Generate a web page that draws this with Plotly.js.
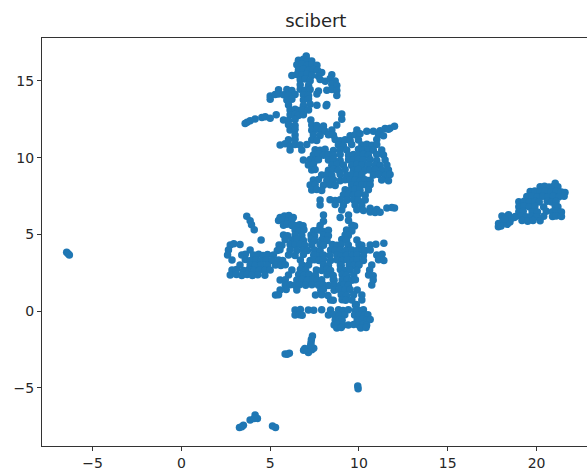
<!DOCTYPE html>
<html><head><meta charset="utf-8">
<script src="https://cdn.plot.ly/plotly-3.0.1.min.js"></script>
<style>html,body{margin:0;padding:0;background:#fff}</style></head>
<body><div id="chart" style="width:587px;height:470px"></div>
<script>
const chartTitle = "scibert";
const xTicks = [-5,0,5,10,15,20];
const yTicks = [-5,0,5,10,15];
const capPts = [[7.03,16.62],[6.59,16.35],[6.87,16.42],[7.1,16.33],[7.34,16.3],[6.5,16.05],[6.78,16.1],[7.06,16.0],[7.34,16.08],[7.63,16.02],[6.59,15.72],[6.87,15.78],[7.16,15.68],[7.44,15.74],[7.66,15.7],[7.9,15.55],[6.22,15.35],[6.5,15.42],[6.78,15.38],[7.06,15.44],[7.34,15.36],[7.72,15.3],[8.47,15.4],[6.69,15.07],[6.97,15.12],[7.25,15.02],[7.81,15.1],[8.1,14.98],[8.38,15.16],[8.66,15.0],[6.69,14.75],[7.16,14.72],[8.47,14.78],[8.75,14.7],[5.47,14.42],[5.94,14.44],[6.22,14.38],[6.69,14.46],[6.97,14.4],[7.25,14.45],[7.72,14.35],[8.19,14.4],[8.47,14.45],[8.75,14.38],[5.0,14.02],[5.28,14.12],[5.47,14.15],[5.75,14.1],[6.03,14.05],[6.4,14.12],[6.87,14.1],[7.16,14.05],[7.63,14.15],[8.75,14.05],[5.0,13.8],[5.94,13.75],[6.22,13.8],[6.87,13.75],[7.16,13.82],[6.03,13.44],[6.87,13.4],[7.25,13.48],[7.63,13.42],[8.19,13.46],[8.15,13.38]];
const upperPts = [[6.12,13.11],[6.4,13.15],[6.59,13.08],[6.78,13.12],[7.16,13.1],[5.34,12.8],[6.12,12.79],[6.4,12.82],[6.59,12.75],[6.87,12.8],[9.03,12.84],[3.59,12.22],[3.7,12.3],[3.87,12.4],[4.15,12.52],[4.53,12.62],[4.72,12.67],[5.0,12.56],[5.75,12.46],[6.03,12.42],[6.4,12.48],[7.29,12.46],[9.03,12.5],[6.03,12.14],[6.4,12.1],[6.12,11.81],[6.4,11.85],[6.4,11.48],[6.03,11.16],[6.4,11.2],[5.56,10.83],[5.84,10.9],[6.12,10.78],[6.4,10.85],[6.12,10.5]];
const midUpperPts = [[7.34,12.13],[7.62,12.1],[8.0,12.06],[8.75,12.13],[7.34,11.78],[7.62,11.85],[7.9,11.78],[8.09,11.72],[8.47,11.8],[9.88,11.8],[11.19,11.75],[11.47,11.9],[11.75,11.92],[12.0,12.05],[7.43,11.48],[7.81,11.45],[8.28,11.5],[8.56,11.46],[9.5,11.42],[9.78,11.5],[10.06,11.55],[10.44,11.72],[10.81,11.72],[11.1,11.5],[11.38,11.42],[11.66,11.85],[7.34,11.15],[7.62,11.12],[8.66,11.18],[8.94,11.1],[9.22,11.16],[9.5,11.12],[9.97,11.15],[11.0,11.18],[6.68,10.83],[7.06,10.85],[8.84,10.83],[9.12,10.78],[9.59,10.85],[10.16,10.82],[10.44,10.88],[10.72,10.8],[11.0,10.85],[6.78,10.5],[7.53,10.52],[7.81,10.48],[8.09,10.55],[8.56,10.46],[8.94,10.52],[9.31,10.5],[9.97,10.54],[10.25,10.46],[10.53,10.52],[10.81,10.48],[11.28,10.5],[7.43,10.18],[7.72,10.22],[8.0,10.15],[8.28,10.2],[8.56,10.16],[8.94,10.2],[9.41,10.15],[9.69,10.2],[9.97,10.16],[10.25,10.22],[10.53,10.15],[11.0,10.2],[11.38,10.18]];
const midLowerPts = [[6.87,9.85],[7.25,9.88],[7.53,9.82],[7.72,9.86],[8.28,9.85],[8.56,9.88],[8.94,9.82],[9.41,9.86],[9.69,9.82],[9.97,9.88],[10.25,9.84],[10.63,9.88],[11.0,9.82],[11.47,9.85],[7.15,9.52],[7.43,9.55],[8.47,9.5],[8.75,9.55],[9.12,9.52],[9.59,9.48],[9.88,9.55],[10.16,9.5],[10.53,9.54],[10.91,9.52],[11.19,9.48],[11.57,9.52],[7.34,9.2],[7.53,9.22],[8.28,9.18],[8.56,9.24],[8.84,9.18],[9.22,9.22],[9.69,9.18],[9.97,9.22],[10.35,9.18],[10.63,9.2],[10.91,9.22],[11.28,9.18],[11.66,9.2],[7.9,8.87],[8.19,8.9],[8.47,8.84],[8.94,8.9],[9.31,8.85],[9.59,8.9],[9.88,8.84],[10.16,8.88],[10.81,8.86],[11.1,8.9],[11.47,8.84],[11.75,8.9],[7.43,8.54],[7.72,8.58],[8.19,8.52],[8.56,8.56],[8.94,8.5],[9.22,8.56],[9.5,8.52],[9.78,8.56],[10.06,8.5],[10.35,8.56],[10.63,8.52],[11.28,8.54],[11.66,8.5],[7.25,8.22],[7.53,8.25],[8.0,8.2],[8.37,8.24],[8.66,8.18],[9.59,8.22],[9.88,8.18],[10.16,8.24],[10.44,8.2],[10.63,8.24],[7.34,7.89],[7.62,7.92],[7.9,7.86],[9.22,7.9],[9.5,7.86],[9.78,7.92],[10.06,7.88],[10.53,7.9],[9.12,7.57],[9.41,7.6],[9.69,7.55],[9.97,7.6],[10.35,7.56],[7.81,7.24],[8.37,7.26],[8.66,7.2],[8.94,7.26],[9.31,7.22],[9.69,7.26],[9.97,7.2],[10.35,7.24],[7.81,6.91],[8.66,6.94],[9.12,6.9],[9.78,6.92],[10.16,6.88],[10.63,6.7],[11.0,6.62],[11.57,6.72],[11.85,6.75],[12.0,6.72],[9.03,6.59],[9.88,6.6],[10.25,6.56],[10.63,6.46],[10.91,6.42],[11.19,6.44]];
const lowerTopPts = [[8.0,6.26],[9.41,6.26],[8.94,6.1],[3.68,6.18],[5.56,6.1],[5.8,6.2],[6.05,6.22],[6.3,6.1],[3.87,5.88],[5.47,5.9],[5.72,5.94],[6.0,5.88],[6.22,5.96],[8.0,5.85],[9.41,5.9],[3.95,5.62],[5.75,5.6],[5.94,5.66],[6.22,5.58],[6.4,5.58],[6.65,5.62],[6.85,5.56],[7.81,5.58],[9.6,5.6],[9.75,5.55],[4.1,5.3],[6.4,5.28],[6.65,5.22],[6.9,5.3],[7.45,5.24],[7.7,5.28],[7.95,5.2],[8.28,5.26],[9.3,5.28],[9.6,5.22],[5.75,4.96],[5.98,4.9],[6.4,4.96],[6.78,4.92],[7.3,4.96],[7.5,4.9],[8.0,4.96],[8.28,4.9],[9.22,4.96],[9.4,4.92],[4.49,4.63],[5.84,4.66],[6.22,4.63],[6.5,4.68],[6.87,4.6],[7.3,4.66],[7.5,4.6],[7.9,4.65],[8.2,4.6],[9.03,4.66],[9.3,4.6],[9.88,4.63]];
const lowerMidPts = [[2.75,4.3],[2.95,4.38],[3.3,4.34],[5.5,4.3],[5.66,4.28],[6.12,4.33],[6.4,4.28],[6.7,4.33],[6.95,4.28],[7.34,4.3],[7.81,4.33],[8.0,4.28],[8.5,4.33],[8.75,4.28],[9.0,4.33],[9.4,4.3],[10.0,4.33],[10.16,4.28],[10.63,4.3],[10.95,4.35],[11.4,4.42],[2.65,3.98],[3.87,3.98],[5.4,3.95],[5.55,4.0],[6.12,3.98],[6.5,3.95],[6.87,4.0],[7.1,3.94],[7.5,3.98],[7.81,3.95],[8.4,3.98],[8.65,3.94],[8.95,3.98],[9.25,3.94],[9.6,3.98],[9.9,3.95],[10.2,3.98],[10.35,3.94],[10.63,3.98],[2.6,3.65],[3.4,3.65],[3.6,3.7],[4.06,3.65],[4.35,3.7],[4.6,3.62],[4.85,3.68],[5.18,3.65],[6.03,3.65],[6.4,3.62],[6.87,3.68],[7.45,3.65],[7.8,3.6],[8.0,3.66],[8.35,3.62],[8.75,3.65],[9.0,3.6],[9.3,3.66],[9.6,3.62],[9.9,3.66],[10.25,3.6],[11.0,3.65],[11.3,3.7],[2.85,3.33],[3.6,3.36],[3.9,3.3],[4.2,3.34],[4.5,3.28],[4.8,3.34],[5.1,3.3],[5.47,3.33],[5.7,3.3],[6.7,3.33],[7.25,3.3],[7.5,3.34],[7.75,3.3],[8.0,3.36],[8.4,3.3],[8.75,3.34],[9.05,3.3],[9.35,3.35],[9.65,3.3],[9.9,3.34],[10.25,3.3],[11.1,3.35],[11.4,3.3],[3.3,3.0],[3.87,3.02],[4.15,2.96],[4.5,3.02],[4.85,2.98],[5.3,3.0],[5.6,2.96],[5.85,3.02],[6.8,3.0],[7.16,3.0],[8.0,3.0],[8.28,2.96],[8.95,3.0],[9.0,2.96],[9.45,3.0],[9.7,2.96],[9.98,3.0],[10.0,3.0],[10.72,3.0]];
const lowerBotPts = [[2.85,2.67],[3.1,2.7],[3.5,2.64],[3.8,2.7],[4.1,2.65],[4.4,2.68],[4.7,2.64],[5.0,2.68],[6.22,2.67],[6.7,2.7],[7.0,2.64],[7.6,2.68],[7.9,2.64],[8.2,2.7],[8.4,2.65],[8.95,2.7],[9.2,2.64],[9.5,2.68],[9.88,2.65],[10.6,2.67],[2.75,2.35],[3.1,2.38],[3.4,2.32],[3.7,2.38],[4.0,2.32],[4.3,2.36],[4.7,2.34],[6.03,2.35],[6.6,2.38],[6.9,2.32],[7.2,2.38],[7.55,2.33],[8.2,2.36],[8.55,2.32],[9.05,2.38],[9.3,2.32],[9.7,2.35],[10.54,2.35],[10.8,2.3],[5.56,2.02],[5.85,2.04],[6.5,2.02],[6.8,2.06],[7.1,2.0],[7.4,2.05],[7.65,2.0],[7.9,2.04],[8.6,2.0],[8.55,2.05],[9.05,2.02],[9.35,2.06],[9.6,2.0],[9.8,2.04],[10.8,2.02],[5.85,1.7],[6.12,1.72],[6.4,1.68],[6.65,1.72],[7.0,1.68],[7.35,1.72],[7.72,1.68],[8.0,1.7],[8.3,1.66],[8.6,1.72],[8.95,1.68],[9.15,1.72],[9.4,1.68],[10.72,1.7],[5.56,1.37],[5.9,1.4],[6.5,1.37],[7.85,1.35],[8.0,1.4],[8.6,1.36],[8.9,1.4],[9.2,1.35],[9.5,1.4],[9.9,1.37],[5.3,1.04],[5.47,1.06],[7.55,1.04],[7.9,1.06],[8.25,1.02],[9.0,1.06],[9.3,1.02],[9.7,1.06],[10.16,1.04],[8.4,0.72],[8.55,0.7],[9.05,0.74],[9.25,0.7],[9.6,0.72],[10.16,0.72],[9.8,0.39],[9.85,0.42],[6.4,0.07],[6.7,0.1],[7.15,0.06],[7.45,0.05],[7.9,0.08],[8.4,0.06],[8.85,0.08],[9.1,0.04],[9.4,0.08],[9.95,0.07],[9.8,0.04],[10.25,0.08],[10.2,0.0],[6.4,-0.26],[6.65,-0.24],[6.8,-0.28],[8.28,-0.26],[8.6,-0.24],[8.9,-0.28],[9.2,-0.24],[9.75,-0.26],[10.0,-0.24],[10.3,-0.28],[10.5,-0.24],[8.66,-0.59],[8.9,-0.56],[9.05,-0.6],[9.9,-0.59],[10.2,-0.56],[10.45,-0.6],[10.63,-0.56],[8.6,-0.91],[8.8,-0.88],[9.1,-0.92],[9.4,-0.91],[9.7,-0.88],[10.0,-0.92],[10.25,-0.88],[10.43,-0.92],[8.75,-1.1],[9.0,-1.08],[10.1,-1.1],[10.4,-1.08]];
const rightPts = [[21.05,8.33],[20.2,8.11],[20.45,8.14],[20.7,8.08],[20.95,8.12],[21.2,8.1],[19.64,7.79],[19.9,7.82],[20.2,7.76],[20.5,7.82],[20.8,7.76],[21.1,7.8],[21.4,7.76],[21.6,7.72],[19.45,7.46],[19.75,7.5],[20.05,7.44],[20.35,7.48],[20.65,7.44],[20.95,7.5],[21.25,7.44],[21.55,7.48],[19.0,7.13],[19.3,7.16],[19.6,7.1],[19.9,7.14],[20.15,7.1],[20.6,7.16],[20.85,7.1],[21.1,7.14],[19.0,6.8],[19.3,6.84],[19.6,6.78],[19.9,6.82],[20.4,6.78],[21.05,6.85],[21.2,6.8],[19.0,6.48],[19.25,6.5],[19.75,6.48],[20.05,6.46],[20.55,6.5],[20.9,6.48],[21.1,6.5],[21.4,6.46],[18.05,6.2],[18.42,6.28],[18.8,6.16],[19.1,6.2],[19.4,6.14],[19.7,6.2],[20.0,6.14],[20.4,6.18],[20.9,6.16],[21.1,6.2],[21.4,6.16],[17.86,5.7],[18.1,5.85],[18.3,5.8],[19.18,5.9],[19.5,5.86],[19.8,5.9],[20.2,5.88],[17.85,5.5],[18.0,5.55],[18.35,5.65],[18.5,5.8],[18.55,6.02],[18.75,6.1],[18.2,6.0]];
const isletPts = [[-6.46,3.83],[-6.38,3.74],[-6.31,3.65],[7.38,-1.63],[7.3,-2.07],[7.06,-2.55],[7.2,-2.55],[7.34,-2.52],[6.95,-2.45],[7.15,-2.7],[7.45,-2.42],[6.88,-2.55],[7.32,-1.85],[7.28,-2.25],[5.84,-2.8],[5.96,-2.82],[6.08,-2.76],[3.27,-7.59],[3.4,-7.54],[3.49,-7.44],[3.87,-7.11],[4.15,-6.78],[4.28,-7.0],[4.1,-7.0],[5.13,-7.5],[5.3,-7.59],[9.93,-4.89],[9.95,-5.07]];

const allPts = [].concat(capPts,upperPts,midUpperPts,midLowerPts,lowerTopPts,lowerMidPts,lowerBotPts,rightPts,isletPts);
const xs = allPts.map(p=>p[0]);
const ys = allPts.map(p=>p[1]);
const tickFont = {family:'"DejaVu Sans",sans-serif',size:14,color:'#262626'};
const axisBase = {showgrid:false,zeroline:false,showline:true,linecolor:'#333',linewidth:1,ticks:'outside',ticklen:4,tickwidth:1,tickcolor:'#333',tickfont:tickFont,tickmode:'array'};
Plotly.newPlot('chart',[{type:'scatter',mode:'markers',x:xs,y:ys,marker:{color:'#1f77b4',size:7.5,line:{width:0}}}],{
  width:587,height:470,showlegend:false,paper_bgcolor:'#fff',plot_bgcolor:'#fff',
  margin:{l:42,r:0,t:38,b:24,pad:0},
  title:{text:chartTitle,font:{family:'"DejaVu Sans",sans-serif',size:18,color:'#262626'},x:0.538,xanchor:'center',y:0.955,yanchor:'middle'},
  xaxis:Object.assign({},axisBase,{mirror:true,range:[-7.85,22.84],tickvals:xTicks,ticktext:xTicks.map(v=>v<0?'\u2212'+(-v):String(v))}),
  yaxis:Object.assign({},axisBase,{mirror:false,range:[-8.8,17.8],tickvals:yTicks,ticktext:yTicks.map(v=>v<0?'\u2212'+(-v):String(v))})
},{displayModeBar:false,staticPlot:true});
</script></body></html>
